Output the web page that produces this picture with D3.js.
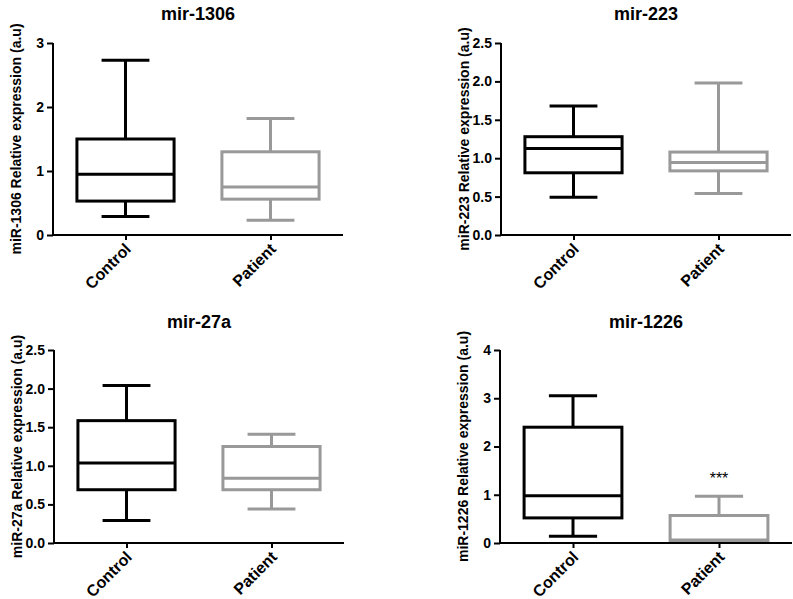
<!DOCTYPE html>
<html>
<head>
<meta charset="utf-8">
<script src="https://cdn.jsdelivr.net/npm/d3@7"></script>
<style>
  html, body { margin: 0; padding: 0; background: #fff; }
  svg { display: block; font-family: "Liberation Sans", Arial, Helvetica, sans-serif; }
</style>
</head>
<body>
<svg id="chart" width="793" height="599"></svg>
<script>
// ---- data (five-number summaries: min, Q1, median, Q3, max) ----
const categories = ["Control", "Patient"];
const titles = ["mir-1306", "mir-223", "mir-27a", "mir-1226"];
const yTitles = [
  "miR-1306 Relative expression (a.u)",
  "miR-223 Relative expression (a.u)",
  "miR-27a Relative expression (a.u)",
  "miR-1226 Relative expression (a.u)"
];
const yMaxes = [3, 2.5, 2.5, 4];
const yTickSteps = [1, 0.5, 0.5, 1];
const yTickFormats = ["d", ".1f", ".1f", "d"];

const mir1306Control = [0.29, 0.53, 0.95, 1.50, 2.73];
const mir1306Patient = [0.23, 0.56, 0.75, 1.30, 1.82];
const mir223Control  = [0.49, 0.81, 1.125, 1.28, 1.68];
const mir223Patient  = [0.54, 0.835, 0.945, 1.08, 1.98];
const mir27aControl  = [0.29, 0.69, 1.035, 1.585, 2.04];
const mir27aPatient  = [0.44, 0.69, 0.84, 1.25, 1.41];
const mir1226Control = [0.14, 0.52, 0.98, 2.40, 3.05];
const mir1226Patient = [0.01, 0.04, 0.06, 0.57, 0.97];
const significance = ["", "", "", "***"];

const seriesData = [
  [mir1306Control, mir1306Patient],
  [mir223Control, mir223Patient],
  [mir27aControl, mir27aPatient],
  [mir1226Control, mir1226Patient]
];

// ---- layout ----
const colors = ["#000000", "#999999"];
const plots = [
  { x0: 53,  x1: 343, y0: 235, y1: 43 },
  { x0: 501, x1: 791, y0: 235, y1: 43 },
  { x0: 54,  x1: 344, y0: 543, y1: 350 },
  { x0: 500, x1: 792, y0: 543, y1: 350 }
];
const titleBaselines = [20, 20, 328, 328];

const svg = d3.select("#chart");

plots.forEach((p, i) => {
  const g = svg.append("g");
  const x = d3.scalePoint().domain(categories).range([p.x0, p.x1]).padding(0.5);
  const y = d3.scaleLinear().domain([0, yMaxes[i]]).range([p.y0, p.y1]);
  const step = x.step();
  const boxW = step * 0.67;
  const capW = step * 0.33;

  // title
  g.append("text")
    .attr("x", (p.x0 + p.x1) / 2).attr("y", titleBaselines[i])
    .attr("text-anchor", "middle")
    .attr("font-size", 18).attr("font-weight", "bold")
    .text(titles[i]);

  // y title
  g.append("text")
    .attr("transform", `translate(${p.x0 - 32},${(p.y0 + p.y1) / 2}) rotate(-90)`)
    .attr("text-anchor", "middle")
    .attr("font-size", 14).attr("font-weight", "bold")
    .text(yTitles[i]);

  // boxes
  seriesData[i].forEach((d, j) => {
    const cx = x(categories[j]);
    const [mn, q1, med, q3, mx] = d;
    const bg = g.append("g").attr("stroke", colors[j]).attr("stroke-width", 3).attr("fill", "none");
    bg.append("line").attr("x1", cx).attr("x2", cx).attr("y1", y(q3)).attr("y2", y(mx));
    bg.append("line").attr("x1", cx).attr("x2", cx).attr("y1", y(q1)).attr("y2", y(mn));
    bg.append("line").attr("x1", cx - capW / 2).attr("x2", cx + capW / 2).attr("y1", y(mx)).attr("y2", y(mx));
    bg.append("line").attr("x1", cx - capW / 2).attr("x2", cx + capW / 2).attr("y1", y(mn)).attr("y2", y(mn));
    bg.append("rect").attr("x", cx - boxW / 2).attr("width", boxW)
      .attr("y", y(q3)).attr("height", y(q1) - y(q3)).attr("fill", "#fff");
    bg.append("line").attr("x1", cx - boxW / 2).attr("x2", cx + boxW / 2).attr("y1", y(med)).attr("y2", y(med));
  });

  // significance
  if (significance[i]) {
    const cx = x(categories[1]);
    const top = seriesData[i][1][4];
    g.append("text")
      .attr("x", cx).attr("y", y(top) - 12)
      .attr("text-anchor", "middle")
      .attr("font-size", 16)
      .text(significance[i]);
  }

  // y axis
  const ticks = d3.range(0, yMaxes[i] + 1e-9, yTickSteps[i]);
  const yAxis = d3.axisLeft(y).tickValues(ticks).tickFormat(d3.format(yTickFormats[i])).tickSize(6).tickPadding(3);
  const ya = g.append("g").attr("transform", `translate(${p.x0},0)`).call(yAxis);
  ya.select(".domain").attr("stroke-width", 2).attr("d", `M0,${p.y0}V${p.y1}`);
  ya.selectAll(".tick line").attr("stroke-width", 2);
  ya.selectAll(".tick text").attr("font-size", 14).attr("font-weight", "bold")
    .attr("font-family", "Liberation Sans, Arial, sans-serif").attr("fill", "#000");

  // x axis
  const xAxis = d3.axisBottom(x).tickSize(5).tickPadding(4);
  const xa = g.append("g").attr("transform", `translate(0,${p.y0})`).call(xAxis);
  xa.select(".domain").attr("stroke-width", 2).attr("d", `M${p.x0},0H${p.x1}`);
  xa.selectAll(".tick line").attr("stroke-width", 2);
  xa.selectAll(".tick text")
    .attr("font-size", 16).attr("font-weight", "bold")
    .attr("font-family", "Liberation Sans, Arial, sans-serif").attr("fill", "#000")
    .attr("text-anchor", "end")
    .attr("dy", null).attr("y", 0)
    .attr("transform", "translate(6,15) rotate(-45)");
});
</script>
</body>
</html>
